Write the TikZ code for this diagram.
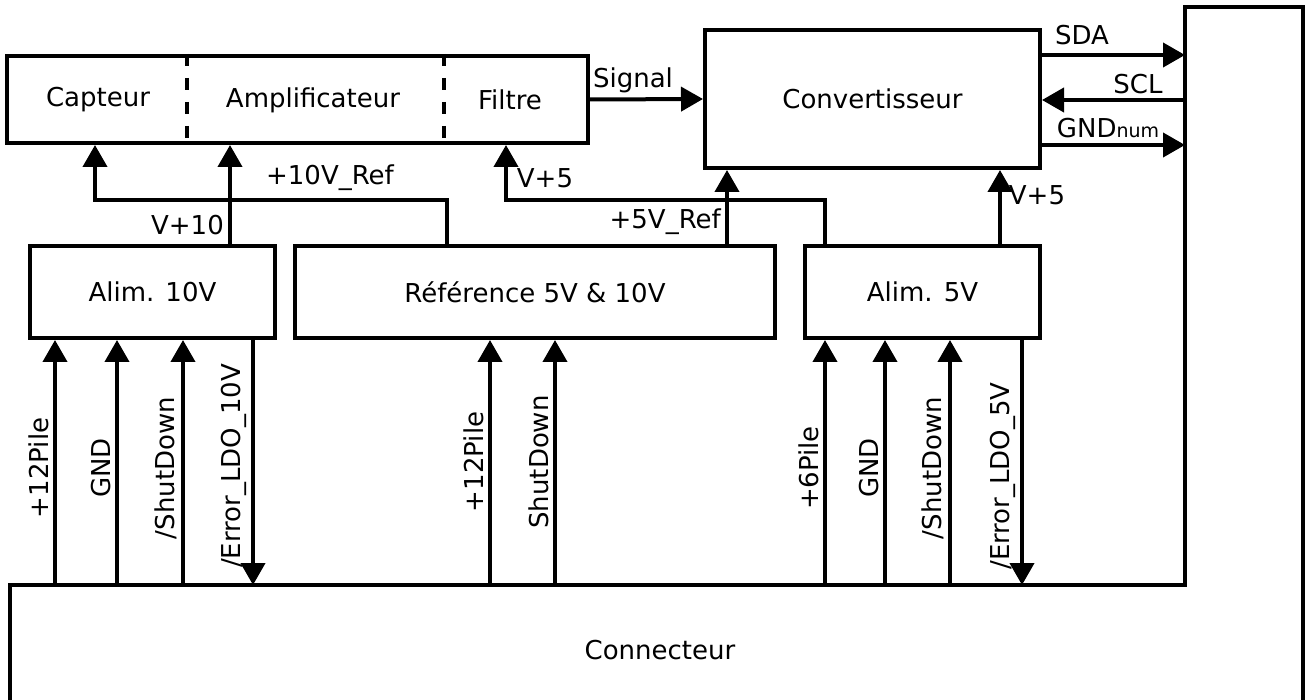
\documentclass[tikz,border=0pt]{standalone}
\usepackage{fontspec}
\setmainfont{DejaVu Sans}
\usetikzlibrary{arrows.meta}

\begin{document}
\begin{tikzpicture}[x=1pt,y=-1pt,every node/.style={font=\fontsize{26}{30}\selectfont,inner sep=2pt},
  blk/.style={draw,line width=4pt},
  arr/.style={line width=4pt,-{Triangle[length=22pt,width=24pt]}},
  vlbl/.style={rotate=90,anchor=south}]
\useasboundingbox (0,0) rectangle (1307,700);
% blocs
\node[blk,minimum width=581pt,minimum height=87pt] (chain) at (297.5,99.5) {};
\node (capt) at (98,100) {Capteur};
\node (ampli) at (313,100) {Amplificateur};
\node (filt) at (510,100) {Filtre};
\draw[line width=4pt,dash pattern=on 12pt off 12pt] (chain.north -| 187,0) -- (chain.south -| 187,0);
\draw[line width=4pt,dash pattern=on 12pt off 12pt] (chain.north -| 444,0) -- (chain.south -| 444,0);
\node[blk,minimum width=335pt,minimum height=138pt] (conv) at (872.5,99) {Convertisseur};
\node[blk,minimum width=245pt,minimum height=92pt] (a10) at (152.5,292) {Alim. 10V};
\node[blk,minimum width=480pt,minimum height=92pt] (ref) at (535,292) {Référence 5V \& 10V};
\node[blk,minimum width=235pt,minimum height=92pt] (a5) at (922.5,292) {Alim. 5V};
% connecteur
\coordinate (ctop) at (0,585);
\coordinate (cx) at (1185,0);
\draw[line width=4pt] (10,702) |- (cx |- ctop) |- (1303,7) -- (1303,702);
\node (conn) at (660,650) {Connecteur};
% alimentations et references
\draw[arr] (a10.north -| 230,0) -- (chain.south -| 230,0);
\node[anchor=east] (lv10) at (226,225) {V+10};
\draw[arr] (ref.north -| 447,0) |- (95,200) -- (chain.south -| 95,0);
\node (lr10) at (330,178) {+10V\_Ref};
\draw[arr] (a5.north -| 825,0) |- (506,200) -- (chain.south -| 506,0);
\node (lv5a) at (545,178) {V+5};
\draw[arr] (ref.north -| 727,0) -- (conv.south -| 727,0);
\node[anchor=east] (lr5) at (723,222) {+5V\_Ref};
\draw[arr] (a5.north -| 1000,0) -- (conv.south -| 1000,0);
\node (lv5b) at (1037,195) {V+5};
% signaux
\draw[arr] (chain.east) -- (conv.west);
\node (lsig) at (633,80) {Signal};
\draw[arr] (conv.east |- 0,55) -- (cx |- 0,55);
\node (lsda) at (1082,35) {SDA};
\draw[arr] (cx |- 0,100) -- (conv.east |- 0,100);
\node (lscl) at (1138,84) {SCL};
\draw[arr] (conv.east |- 0,145) -- (cx |- 0,145);
\node (lgnd) at (1108,128) {GND{\fontsize{19}{22}\selectfont num}};
% liaisons avec le connecteur
\foreach \x/\t in {55/+12Pile,117/GND,183/{/ShutDown}}{
  \draw[arr] (ctop -| \x,0) -- (a10.south -| \x,0);
  \node[vlbl] (v\x) at ({\x-4},468) {\t};
}
\draw[arr] (a10.south -| 253,0) -- (ctop -| 253,0);
\node[vlbl] (v253) at (249,466) {/Error\_LDO\_10V};
\foreach \x/\t in {490/+12Pile,555/ShutDown}{
  \draw[arr] (ctop -| \x,0) -- (ref.south -| \x,0);
  \node[vlbl] (v\x) at ({\x-4},462) {\t};
}
\foreach \x/\t in {825/+6Pile,885/GND,950/{/ShutDown}}{
  \draw[arr] (ctop -| \x,0) -- (a5.south -| \x,0);
  \node[vlbl] (v\x) at ({\x-4},468) {\t};
}
\draw[arr] (a5.south -| 1022,0) -- (ctop -| 1022,0);
\node[vlbl] (v1022) at (1018,476) {/Error\_LDO\_5V};
\end{tikzpicture}
\end{document}
